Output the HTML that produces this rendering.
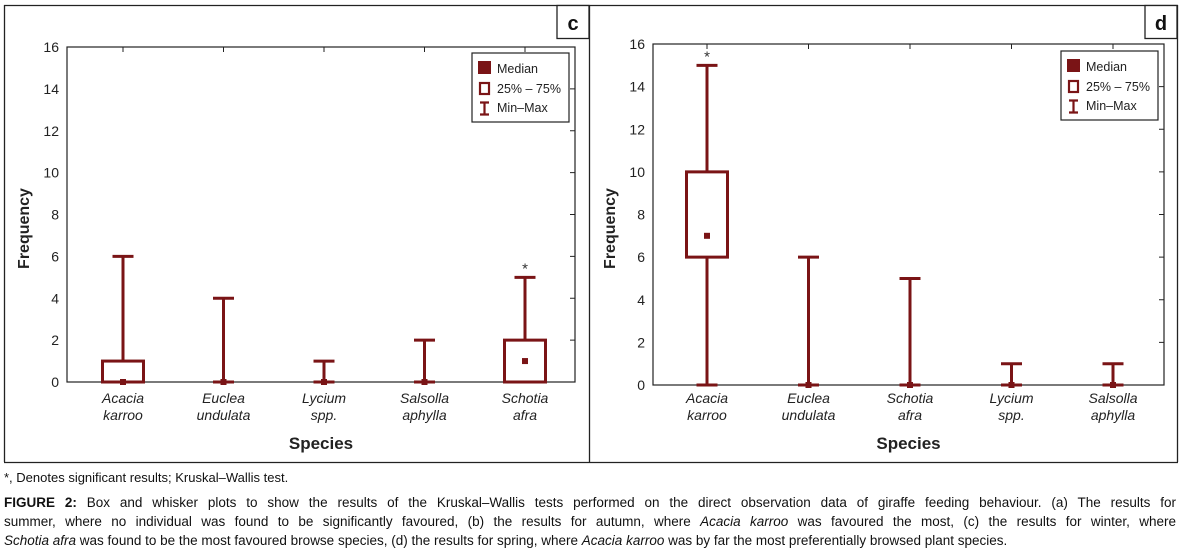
<!DOCTYPE html>
<html><head><meta charset="utf-8">
<style>
html,body{margin:0;padding:0;background:#fff;}
body{width:1186px;height:555px;position:relative;overflow:hidden;font-family:"Liberation Sans",sans-serif;}
svg{position:absolute;left:0;top:0;}
.cap{position:absolute;left:4px;width:1172px;font-size:13px;color:#111;}
#caption{top:493px;line-height:19px;font-size:13.5px;}
#caption div{white-space:nowrap;text-align:justify;text-align-last:justify;}
#caption div.last{text-align-last:left;}
</style></head><body>
<svg id="fig" width="1186" height="470"></svg>
<div class="cap" style="top:470px;">*, Denotes significant results; Kruskal–Wallis test.</div>
<div class="cap" id="caption">
<div><b>FIGURE 2:</b> Box and whisker plots to show the results of the Kruskal–Wallis tests performed on the direct observation data of giraffe feeding behaviour. (a) The results for</div>
<div>summer, where no individual was found to be significantly favoured, (b) the results for autumn, where <i>Acacia karroo</i> was favoured the most, (c) the results for winter, where</div>
<div class="last"><i>Schotia afra</i> was found to be the most favoured browse species, (d) the results for spring, where <i>Acacia karroo</i> was by far the most preferentially browsed plant species.</div>
</div>
<script>
// Panel c data
const catsC = [["Acacia","karroo"],["Euclea","undulata"],["Lycium","spp."],["Salsolla","aphylla"],["Schotia","afra"]];
const minC = [0,0,0,0,0];
const maxC = [6,4,1,2,5];
const q1C = [0,0,0,0,0];
const q3C = [1,0,0,0,2];
const medC = [0,0,0,0,1];
const sigC = [false,false,false,false,true];
// Panel d data
const catsD = [["Acacia","karroo"],["Euclea","undulata"],["Schotia","afra"],["Lycium","spp."],["Salsolla","aphylla"]];
const minD = [0,0,0,0,0];
const maxD = [15,6,5,1,1];
const q1D = [6,0,0,0,0];
const q3D = [10,0,0,0,0];
const medD = [7,0,0,0,0];
const sigD = [true,false,false,false,false];
const yTicks = [0,2,4,6,8,10,12,14,16];

const NS="http://www.w3.org/2000/svg";
const svg=document.getElementById('fig');
const RED="#7a1416";
function mk(tag,attrs,parent){const e=document.createElementNS(NS,tag);for(const k in attrs)e.setAttribute(k,attrs[k]);(parent||svg).appendChild(e);return e;}

let fr=mk('path',{d:"M4 5.5 H1178 M4.5 5 V462 M4 462.5 H1178 M589.5 5 V462 M1177.5 5 V462",stroke:"#222","stroke-width":1.3,fill:"none"});



function panel(o){
  const g=mk('g',{});
  
  
  const y=v=>o.y0+(o.y16-o.y0)*v/16;
  const x=i=>o.cx0+i*o.dx;
  const lb=mk('rect',{x:o.lx,y:5.5,width:o.right0-o.lx,height:33,fill:"#fff",stroke:"#222","stroke-width":1.3},g);
  
  
  const lt=mk('text',{x:(o.lx+o.right0)/2,y:30,"text-anchor":"middle","font-size":20,"font-weight":"bold",fill:"#111"},g);
  lt.textContent=o.label;
  
  
  const pb=mk('rect',{x:o.L,y:y(16),width:o.R-o.L,height:y(0)-y(16),fill:"none",stroke:"#222","stroke-width":1.2},g);
  
  
  yTicks.forEach(t=>{
    mk('line',{x1:o.R-5,x2:o.R,y1:y(t),y2:y(t),stroke:"#222","stroke-width":1},g);
    const tx=mk('text',{x:o.L-8,y:y(t)+5,"text-anchor":"end","font-size":14,fill:"#222"},g);
    tx.textContent=t;
    
    
  });
  const yt=mk('text',{x:0,y:0,"text-anchor":"middle","font-size":16,"font-weight":"bold",fill:"#222",transform:`translate(${o.L-38},${(y(0)+y(16))/2+14}) rotate(-90)`},g);
  yt.textContent="Frequency";
  
  
  const xt=mk('text',{x:(o.L+o.R)/2,y:449,"text-anchor":"middle","font-size":17,"font-weight":"bold",fill:"#222"},g);
  xt.textContent="Species";
  
  
  o.cats.forEach((c,i)=>{
    const cx=x(i);
    mk('line',{x1:cx,x2:cx,y1:y(16),y2:y(16)+5,stroke:"#222","stroke-width":1},g);
    const t=mk('text',{x:cx,y:403,"text-anchor":"middle","font-size":14,"font-style":"italic",fill:"#222"},g);
    t.textContent=c[0];
    
    
    const t2=mk('text',{x:cx,y:420,"text-anchor":"middle","font-size":14,"font-style":"italic",fill:"#222"},g);
    t2.textContent=c[1];
    
    
    const w=mk('line',{x1:cx,x2:cx,y1:y(o.min[i]),y2:y(o.max[i]),stroke:RED,"stroke-width":3},g);
    
    
    [o.min[i],o.max[i]].forEach(v=>{
      const cp=mk('line',{x1:cx-10.5,x2:cx+10.5,y1:y(v),y2:y(v),stroke:RED,"stroke-width":3},g);
      
      
    });
    if(o.q3[i]>o.q1[i]){
      const b=mk('rect',{x:cx-20.5,y:y(o.q3[i]),width:41,height:y(o.q1[i])-y(o.q3[i]),fill:"#fff",stroke:RED,"stroke-width":3},g);
      
      
    }
    const m=mk('rect',{x:cx-3,y:y(o.med[i])-3,width:6,height:6,fill:RED},g);
    
    
    if(o.sig[i]){
      const s=mk('text',{x:cx,y:y(o.max[i])-4,"text-anchor":"middle","font-size":15,fill:"#333"},g);
      s.textContent="*";
      
      
    }
  });
  const lg=mk('g',{},g);
  
  
  mk('rect',{x:o.lgx,y:o.lgy,width:97,height:69,fill:"#fff",stroke:"#222","stroke-width":1.2},lg);
  mk('rect',{x:o.lgx+6,y:o.lgy+8,width:13,height:13,fill:RED},lg);
  mk('rect',{x:o.lgx+8,y:o.lgy+30,width:9,height:11,fill:"#fff",stroke:RED,"stroke-width":2.2},lg);
  mk('path',{d:`M${o.lgx+8} ${o.lgy+49.5}h9M${o.lgx+12.5} ${o.lgy+49.5}v12M${o.lgx+8} ${o.lgy+61.5}h9`,stroke:RED,"stroke-width":2.2,fill:"none"},lg);
  [["Median",20],["25% – 75%",40],["Min–Max",59]].forEach(e=>{
    const t=mk('text',{x:o.lgx+25,y:o.lgy+e[1],"font-size":12.5,fill:"#222"},lg);
    t.textContent=e[0];
    
    
  });
}

panel({label:"c",L:67,R:575,y0:382,y16:47,cx0:123,dx:100.5,lx:557,right0:589,lgx:472,lgy:53,
  cats:catsC,min:minC,max:maxC,q1:q1C,q3:q3C,med:medC,sig:sigC});
panel({label:"d",L:653,R:1164,y0:385,y16:44,cx0:707,dx:101.5,lx:1145,right0:1177,lgx:1061,lgy:51,
  cats:catsD,min:minD,max:maxD,q1:q1D,q3:q3D,med:medD,sig:sigD});
</script>
</body></html>
